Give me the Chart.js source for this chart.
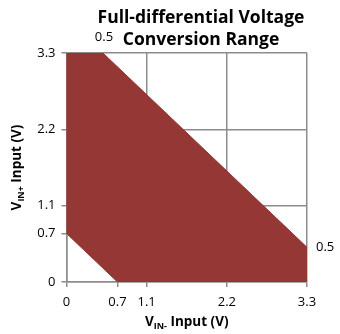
<!DOCTYPE html>
<html>
<head>
<meta charset="utf-8">
<script src="https://cdn.jsdelivr.net/npm/chart.js@4.4.0/dist/chart.umd.min.js"></script>
<style>
  html, body { margin: 0; padding: 0; background: #fff; }
  #wrap { width: 340px; height: 334px; }
</style>
</head>
<body>
<div id="wrap"><canvas id="rangeChart" width="340" height="334"></canvas></div>
<script>
// region outline: VIN- (x) and VIN+ (y) corners, in volts
const regionX = [0, 0, 0.5, 3.3, 3.3, 0.7, 0];
const regionY = [0.7, 3.3, 3.3, 0.5, 0, 0, 0.7];
const tickValues = [0, 0.7, 1.1, 2.2, 3.3];
const gridValues = [0, 1.1, 2.2, 3.3];
const calloutX = [0.5, 3.3];
const calloutY = [3.3, 0.5];
const calloutText = ["0.5", "0.5"];

const gridGray = "#8c8c8c";
const fillRed = "#953735";
const font = "'Open Sans', Lato, sans-serif";

const points = regionX.map((x, i) => ({ x: x, y: regionY[i] }));

// draws title, subscripted axis titles and the 0.5 callouts
const extras = {
  id: "extras",
  afterDraw(chart) {
    const ctx = chart.ctx;
    const xs = chart.scales.x, ys = chart.scales.y;
    const area = chart.chartArea;
    ctx.save();
    ctx.fillStyle = "#000";
    ctx.textBaseline = "middle";

    // title
    ctx.font = "bold 17.5px " + font;
    ctx.textAlign = "center";
    ctx.fillText("Full-differential Voltage", 201, 18);
    ctx.fillText("Conversion Range", 201, 40);

    // callouts
    ctx.font = "13px " + font;
    calloutText.forEach((t, i) => {
      const px = xs.getPixelForValue(calloutX[i]);
      const py = ys.getPixelForValue(calloutY[i]);
      if (calloutY[i] >= ys.max) {
        ctx.textAlign = "center";
        ctx.fillText(t, px + 1, py - 16);
      } else {
        ctx.textAlign = "left";
        ctx.fillText(t, px + 9, py);
      }
    });

    // axis title with subscript
    function subTitle(sub, cx, cy) {
      const big = "bold 13.5px " + font, small = "bold 9px " + font;
      ctx.font = big;
      const wV = ctx.measureText("V").width;
      const wRest = ctx.measureText(" Input (V)").width;
      ctx.font = small;
      const wSub = ctx.measureText(sub).width;
      let x0 = cx - (wV + wSub + wRest) / 2;
      ctx.textAlign = "left";
      ctx.font = big;
      ctx.fillText("V", x0, cy);
      ctx.font = small;
      ctx.fillText(sub, x0 + wV, cy + 4);
      ctx.font = big;
      ctx.fillText(" Input (V)", x0 + wV + wSub, cy);
    }
    subTitle("IN-", (area.left + area.right) / 2, 322);
    ctx.translate(17, (area.top + area.bottom) / 2);
    ctx.rotate(-Math.PI / 2);
    subTitle("IN+", 0, 0);
    ctx.restore();
  }
};

function axisOptions(fitSize, isX) {
  return {
    type: "linear",
    min: 0,
    max: 3.3,
    afterBuildTicks: (scale) => {
      scale.ticks = tickValues.map((v) => ({ value: v }));
    },
    afterFit: (scale) => {
      if (isX) scale.height = fitSize; else scale.width = fitSize;
    },
    grid: {
      color: (c) => (gridValues.includes(c.tick && c.tick.value) ? gridGray : "rgba(0,0,0,0)"),
      tickColor: gridGray,
      lineWidth: 1.5,
      tickLength: 5,
    },
    border: { color: gridGray, width: 1.5 },
    ticks: {
      color: "#000",
      font: { family: font, size: 13 },
      padding: isX ? 7 : 6,
      maxRotation: 0,
      autoSkip: false,
      callback: (v) => String(v),
    },
  };
}

const chart = new Chart(document.getElementById("rangeChart"), {
  type: "scatter",
  data: {
    datasets: [
      {
        data: points,
        showLine: true,
        fill: "shape",
        backgroundColor: fillRed,
        borderColor: fillRed,
        borderWidth: 1,
        pointRadius: 0,
        tension: 0,
      },
    ],
  },
  options: {
    responsive: false,
    animation: false,
    layout: { padding: { top: 53, right: 33, left: 0, bottom: 0 } },
    plugins: {
      legend: { display: false },
      tooltip: { enabled: false },
    },
    scales: {
      x: axisOptions(52, true),
      y: axisOptions(66.5, false),
    },
  },
  plugins: [extras],
});
</script>
</body>
</html>
